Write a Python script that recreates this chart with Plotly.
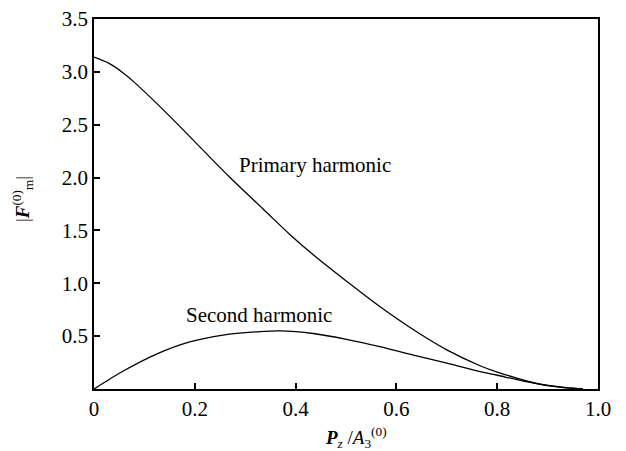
import plotly.graph_objects as go

# Primary harmonic |F_m^(0)| vs P_z/A_3^(0)
primary_x = [0.0, 0.03, 0.058, 0.078, 0.144, 0.21, 0.27, 0.336, 0.389, 0.435, 0.501,
             0.567, 0.634, 0.70, 0.766, 0.80, 0.885, 0.951, 0.97]
primary_y = [3.14, 3.08, 2.99, 2.91, 2.61, 2.29, 2.00, 1.70, 1.46, 1.27, 1.02,
             0.78, 0.56, 0.37, 0.22, 0.16, 0.045, 0.007, 0.0]

# Second harmonic
second_x = [0.0, 0.03, 0.058, 0.124, 0.19, 0.256, 0.322, 0.37, 0.435, 0.501, 0.567,
            0.634, 0.70, 0.766, 0.80, 0.852, 0.90, 0.94, 0.97]
second_y = [0.0, 0.09, 0.17, 0.33, 0.445, 0.51, 0.54, 0.55, 0.525, 0.47, 0.40,
            0.32, 0.245, 0.165, 0.13, 0.075, 0.035, 0.01, 0.0]

x_ticks = [0, 0.2, 0.4, 0.6, 0.8, 1.0]
x_tick_labels = ["0", "0.2", "0.4", "0.6", "0.8", "1.0"]
y_ticks = [0.5, 1.0, 1.5, 2.0, 2.5, 3.0, 3.5]
y_tick_labels = ["0.5", "1.0", "1.5", "2.0", "2.5", "3.0", "3.5"]

FONT = "Liberation Serif"

fig = go.Figure()
for xs, ys in ((primary_x, primary_y), (second_x, second_y)):
    fig.add_trace(go.Scatter(x=xs, y=ys, mode="lines",
                             line=dict(color="black", width=1.3, shape="spline", smoothing=1.0),
                             showlegend=False, hoverinfo="skip"))

fig.add_annotation(x=0.438, y=2.12, xref="x", yref="y", text="Primary harmonic",
                   showarrow=False, font=dict(family=FONT, size=21, color="black"))
fig.add_annotation(x=0.327, y=0.70, xref="x", yref="y", text="Second harmonic",
                   showarrow=False, font=dict(family=FONT, size=21, color="black"))

fig.add_annotation(x=-0.143, y=0.513, xref="paper", yref="paper",
                   xanchor="center", yanchor="middle",
                   text="|<b><i>F</i></b><sup>(0)</sup><sub>m</sub>|",
                   textangle=-90, showarrow=False,
                   font=dict(family=FONT, size=19, color="black"))
fig.add_annotation(x=0.52, y=-0.13, xref="paper", yref="paper",
                   xanchor="center", yanchor="middle",
                   text="<b><i>P</i></b><sub><i>z</i></sub> /<i>A</i><sub>3</sub><sup>(0)</sup>",
                   showarrow=False,
                   font=dict(family=FONT, size=19, color="black"))

axis_common = dict(showline=True, linecolor="black", linewidth=1.6, mirror=True,
                   ticks="inside", ticklen=6, tickwidth=1.5, tickcolor="black",
                   showgrid=False, zeroline=False, automargin=False,
                   tickfont=dict(family=FONT, size=21, color="black"))

fig.update_xaxes(range=[0, 1.0], tickvals=x_ticks, ticktext=x_tick_labels, **axis_common)
fig.update_yaxes(range=[0, 3.5], tickvals=y_ticks, ticktext=y_tick_labels, **axis_common)

fig.update_layout(width=626, height=451,
                  margin=dict(l=94, r=28, t=19, b=62),
                  paper_bgcolor="white", plot_bgcolor="white")

# remove the browser's default 8px body margin so the figure fills the window
fig.write_html("out.html",
               config={"displayModeBar": False},
               post_script="document.body.style.margin='0';document.body.style.overflow='hidden';")
